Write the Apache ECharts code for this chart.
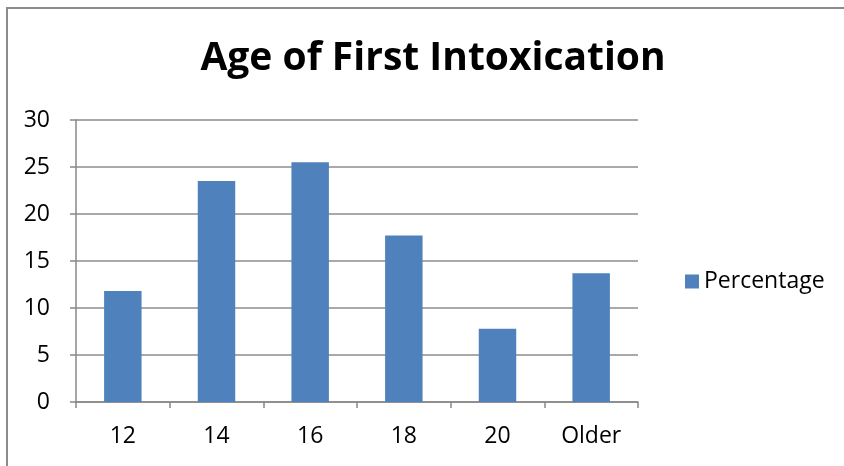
<!DOCTYPE html>
<html>
<head>
<meta charset="utf-8">
<script src="https://cdn.jsdelivr.net/npm/echarts@6/dist/echarts.min.js"></script>
<style>
  html, body { margin: 0; padding: 0; background: #fff; overflow: hidden; }
  #wrap { position: relative; width: 844px; height: 466px; overflow: hidden; }
  #chart { width: 844px; height: 466px; }
  #frame { position: absolute; left: 6px; top: 7px; width: 900px; height: 500px;
           border-top: 2px solid #8c8c8c; border-left: 2px solid #8c8c8c; pointer-events: none; }
</style>
</head>
<body>
<div id="wrap">
  <div id="chart"></div>
  <div id="frame"></div>
</div>
<script>
var ages = ['12', '14', '16', '18', '20', 'Older'];
var percentage = [11.8, 23.5, 25.5, 17.7, 7.8, 13.7];
var seriesName = 'Percentage';

var myChart = echarts.init(document.getElementById('chart'));
var option = {
    backgroundColor: '#fff',
    animation: false,
    title: {
        text: 'Age of First Intoxication',
        left: 428,
        textAlign: 'center',
        top: 34,
        textStyle: { fontFamily: 'Open Sans', fontWeight: 'bold', fontSize: 39, color: '#000' }
    },
    legend: {
        data: [seriesName],
        orient: 'vertical',
        left: 680,
        top: 265,
        itemWidth: 14,
        itemHeight: 14,
        itemGap: 8,
        icon: 'rect',
        textStyle: { fontFamily: 'Open Sans', fontSize: 23, color: '#000' }
    },
    grid: { left: 76, right: 206, top: 120, bottom: 64 },
    xAxis: {
        type: 'category',
        data: ages,
        axisLine: { lineStyle: { color: '#888', width: 1.5 } },
        axisTick: { show: true, length: 6, lineStyle: { color: '#888', width: 1.5 } },
        axisLabel: { margin: 23, fontFamily: 'Open Sans', fontSize: 23, color: '#000' }
    },
    yAxis: {
        type: 'value',
        min: 0,
        max: 30,
        interval: 5,
        axisLine: { show: true, lineStyle: { color: '#888', width: 1.5 } },
        axisTick: { show: true, length: 6, lineStyle: { color: '#888', width: 1.5 } },
        axisLabel: { margin: 26, fontFamily: 'Open Sans', fontSize: 23, color: '#000' },
        splitLine: { lineStyle: { color: '#8c8c8c', width: 1.5 } }
    },
    series: [{
        name: seriesName,
        type: 'bar',
        data: percentage,
        barWidth: '40%',
        itemStyle: { color: '#4f81bd' }
    }]
};
myChart.setOption(option);
</script>
</body>
</html>
